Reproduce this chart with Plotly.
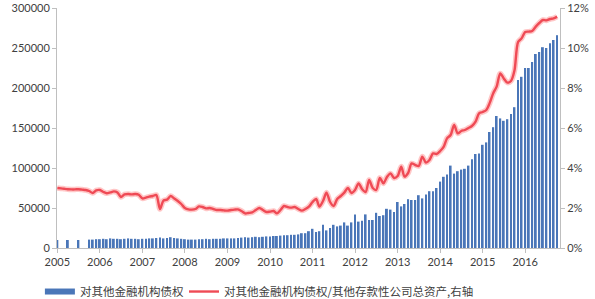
import plotly.graph_objects as go
import pandas as pd

months = pd.date_range("2005-01-01", "2016-10-01", freq="MS").strftime("%Y-%m-%d").tolist()

claims = [
    # 2005
    10000, None, None, 10000, None, None, 10000, None, None, 10500, 10500, 11000,
    # 2006
    11000, 11500, 11000, 12000, 11500, 11500, 11000, 11500, 12000, 11500, 11500, 11000,
    # 2007
    11500, 11500, 12000, 12000, 12500, 13000, 12000, 12500, 13500, 12500, 12000, 11500,
    # 2008
    11000, 10500, 10500, 10500, 11000, 11000, 11500, 11000, 11500, 11500, 11500, 12000,
    # 2009
    12000, 12000, 12000, 12500, 13000, 13500, 13000, 13500, 14000, 13500, 14000, 14500,
    # 2010
    14500, 15000, 15000, 15500, 16000, 16000, 16500, 16500, 17000, 18500, 18500, 21000,
    # 2011
    24000, 20000, 21000, 29000, 22000, 25000, 29000, 27000, 28000, 32000, 28000, 32000,
    # 2012
    42000, 33000, 34000, 42000, 35000, 35000, 44000, 40000, 41000, 49000, 48000, 45000,
    # 2013
    57500, 52000, 55000, 61000, 60000, 60000, 66000, 62000, 67000, 71000, 71000, 75000,
    # 2014
    83000, 89000, 92000, 103000, 93000, 96000, 98000, 99000, 103000, 111000, 117500, 118000,
    # 2015
    129000, 132000, 145000, 151000, 165000, 162000, 159000, 161000, 167500, 176000, 210000, 214000,
    # 2016
    225000, 225000, 232500, 242500, 245000, 251000, 250000, 256000, 260000, 266000,
]

ratio_pct = [
    # 2005
    3.00, 2.98, 2.96, 2.94, 2.93, 2.93, 2.94, 2.92, 2.90, 2.85, 2.75, 2.88,
    # 2006
    2.90, 2.80, 2.74, 2.78, 2.83, 2.78, 2.55, 2.68, 2.70, 2.68, 2.70, 2.66,
    # 2007
    2.48, 2.52, 2.57, 2.60, 2.65, 1.95, 2.37, 2.42, 2.60, 2.48, 2.35, 2.20,
    # 2008
    2.00, 1.93, 1.92, 1.95, 2.08, 2.05, 1.98, 2.00, 1.95, 1.90, 1.90, 1.88,
    # 2009
    1.87, 1.90, 1.92, 1.93, 1.85, 1.73, 1.75, 1.78, 1.90, 2.00, 1.90, 1.80,
    # 2010
    1.82, 1.85, 1.73, 1.90, 2.10, 2.05, 2.02, 2.05, 1.95, 1.87, 1.95, 2.07,
    # 2011
    2.30, 2.45, 2.07, 2.35, 2.77, 2.30, 2.10, 2.45, 2.60, 2.77, 3.00, 2.75,
    # 2012
    2.90, 3.23, 2.95, 2.80, 3.40, 3.00, 2.90, 3.50, 3.23, 3.55, 3.73, 3.50,
    # 2013
    3.60, 4.07, 3.57, 3.75, 4.23, 4.15, 4.10, 4.57, 4.27, 4.40, 4.73, 4.70,
    # 2014
    4.85, 5.07, 5.48, 5.65, 6.15, 5.73, 5.85, 5.90, 6.00, 6.10, 6.32, 6.73,
    # 2015
    6.80, 6.90, 7.23, 7.73, 8.07, 8.73, 8.48, 8.27, 8.35, 8.87, 10.30, 10.48,
    # 2016
    10.80, 10.82, 10.85, 11.07, 11.25, 11.40, 11.38, 11.45, 11.48, 11.57,
]
ratio = [v / 100 for v in ratio_pct]

left_ticks = [0, 50000, 100000, 150000, 200000, 250000, 300000]
right_ticks = [0, 0.02, 0.04, 0.06, 0.08, 0.10, 0.12]
year_ticks = [f"{y}-01-01" for y in range(2005, 2017)]
year_labels = [str(y) for y in range(2005, 2017)]

bar_name = "对其他金融机构债权"
line_name = "对其他金融机构债权/其他存款性公司总资产,右轴"

bar_color = "#4a76b8"
line_color = "#ef4a55"

fig = go.Figure()
fig.add_trace(go.Bar(
    x=months, y=claims, name=bar_name, showlegend=False,
    marker=dict(color=bar_color, line=dict(width=0)),
    yaxis="y",
))
# legend entry for the bars (wide flat swatch like the original)
fig.add_trace(go.Scatter(
    x=[None], y=[None], mode="lines", name=bar_name,
    line=dict(color=bar_color, width=6), yaxis="y", legend="legend",
))
fig.add_trace(go.Scatter(
    x=months, y=ratio, mode="lines", showlegend=False, hoverinfo="skip",
    line=dict(color="rgba(255,130,130,0.45)", width=5.5, shape="spline", smoothing=0.8),
    yaxis="y2",
))
fig.add_trace(go.Scatter(
    x=months, y=ratio, mode="lines", name=line_name,
    line=dict(color=line_color, width=2.4, shape="spline", smoothing=0.8),
    yaxis="y2", legend="legend2",
))

axis_col = "#bfbfbf"
tick_font = dict(family="Lato, 'Open Sans', sans-serif", size=11, color="#404040")
legend_font = dict(family="'Noto Sans CJK SC', sans-serif", size=11.5, color="#404040")

fig.update_layout(
    width=595, height=299,
    margin=dict(l=57, r=35, t=8, b=51, autoexpand=False),
    paper_bgcolor="white", plot_bgcolor="white",
    bargap=0.42,
    font=dict(family="'Noto Sans CJK SC', sans-serif", size=12, color="#404040"),
    xaxis=dict(
        type="date", range=["2004-12-29", "2016-10-26"],
        tickvals=year_ticks, ticktext=year_labels,
        showgrid=False, showline=True, linecolor=axis_col, linewidth=1,
        ticks="outside", ticklen=4, tickcolor=axis_col, tickfont=tick_font,
        zeroline=False, automargin=False,
    ),
    yaxis=dict(
        range=[0, 300000], tickvals=left_ticks, ticktext=[str(v) for v in left_ticks],
        showgrid=False, showline=True, linecolor=axis_col, linewidth=1,
        ticks="outside", ticklen=4, tickcolor=axis_col, tickfont=tick_font,
        zeroline=False, automargin=False,
    ),
    yaxis2=dict(
        range=[0, 0.12], tickvals=right_ticks, tickformat=".0%",
        overlaying="y", side="right",
        showgrid=False, showline=True, linecolor=axis_col, linewidth=1,
        ticks="outside", ticklen=4, tickcolor=axis_col, tickfont=tick_font,
        zeroline=False, automargin=False,
    ),
    legend=dict(
        orientation="h", x=-0.034, xanchor="left",
        yref="container", y=0.025, yanchor="middle",
        font=legend_font, itemwidth=30, bgcolor="rgba(0,0,0,0)",
    ),
    legend2=dict(
        orientation="h", x=0.2525, xanchor="left",
        yref="container", y=0.025, yanchor="middle",
        font=legend_font, itemwidth=30, bgcolor="rgba(0,0,0,0)",
    ),
)

fig.write_html("out.html")
